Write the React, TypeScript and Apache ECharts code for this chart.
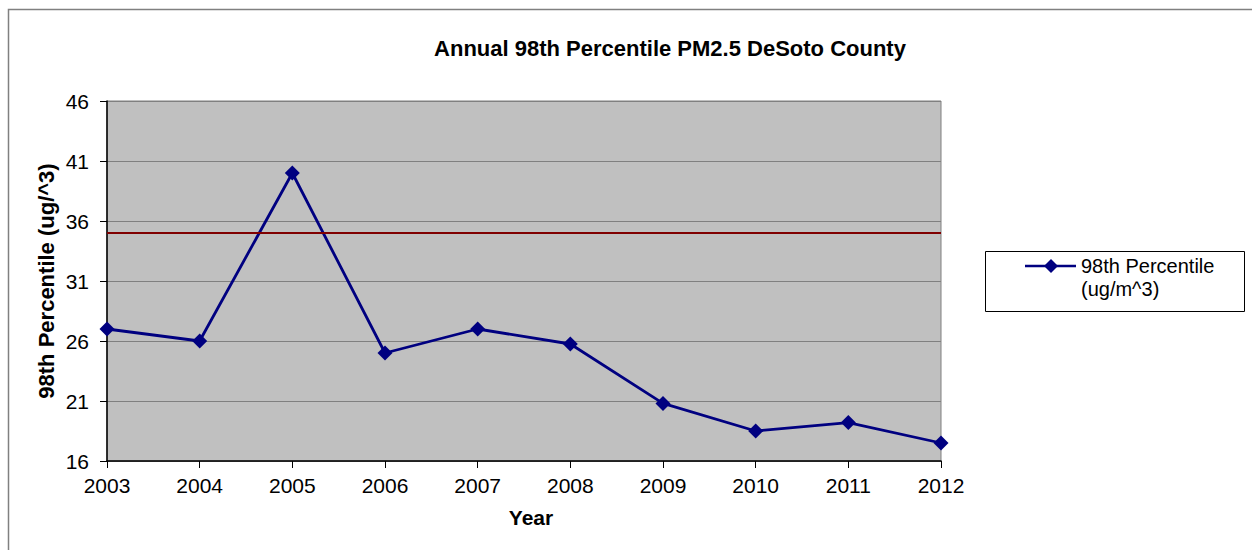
import React, { useEffect, useRef } from "react";
import * as echarts from "echarts";

const years = ["2003", "2004", "2005", "2006", "2007", "2008", "2009", "2010", "2011", "2012"];
const percentile98 = [27, 26, 40, 25, 27, 25.75, 20.8, 18.5, 19.2, 17.5];
const standardValue = 35;
const titleText = "Annual 98th Percentile PM2.5 DeSoto County";
const seriesName = "98th Percentile (ug/m^3)";
const yAxisName = "98th Percentile (ug/^3)";
const xAxisName = "Year";

const FONT = "Arial, 'Liberation Sans', sans-serif";

export default function App() {
  const ref = useRef<HTMLDivElement>(null);
  useEffect(() => {
    if (!ref.current) return;
    const chart = echarts.init(ref.current, undefined, { renderer: "svg" });
    chart.setOption({
      animation: false,
      textStyle: { fontFamily: FONT },
      title: {
        text: titleText,
        left: 665,
        top: 32,
        textAlign: "center",
        textStyle: { fontSize: 22, fontWeight: "bold", color: "#000", fontFamily: FONT },
      },
      grid: {
        left: 107,
        top: 101,
        width: 834,
        height: 360,
        show: true,
        backgroundColor: "#C0C0C0",
        borderColor: "#808080",
        borderWidth: 1,
      },
      xAxis: {
        type: "category",
        data: years,
        boundaryGap: false,
        name: xAxisName,
        nameLocation: "middle",
        nameGap: 46,
        nameMoveOverlap: false,
        nameTextStyle: {
          fontSize: 21,
          fontWeight: "bold",
          color: "#000",
          fontFamily: FONT,
          padding: [0, 0, 0, 14],
        },
        axisLine: { lineStyle: { color: "#000", width: 1.5 } },
        axisTick: { show: true, length: 7, lineStyle: { color: "#000" } },
        axisLabel: { fontSize: 21, color: "#000", margin: 14, fontFamily: FONT },
        splitLine: { show: false },
      },
      yAxis: {
        type: "value",
        min: 16,
        max: 46,
        interval: 5,
        name: yAxisName,
        nameLocation: "middle",
        nameGap: 50,
        nameMoveOverlap: false,
        nameTextStyle: { fontSize: 22, fontWeight: "bold", color: "#000", fontFamily: FONT },
        axisLine: { show: true, lineStyle: { color: "#000", width: 1.5 } },
        axisTick: { show: true, length: 7, lineStyle: { color: "#000" } },
        axisLabel: { fontSize: 21, color: "#000", margin: 18, fontFamily: FONT },
        splitLine: { show: true, lineStyle: { color: "#808080", width: 1 } },
      },
      series: [
        {
          name: seriesName,
          type: "line",
          data: percentile98,
          symbol: "diamond",
          symbolSize: 15,
          lineStyle: { color: "#000080", width: 2.8 },
          itemStyle: { color: "#000080" },
          markLine: {
            silent: true,
            symbol: "none",
            label: { show: false },
            lineStyle: { color: "#800000", width: 2, type: "solid" },
            data: [{ yAxis: standardValue }],
          },
        },
      ],
      graphic: [
        {
          type: "polyline",
          shape: { points: [[8.5, 560], [8.5, 9.5], [1260, 9.5]] },
          style: { stroke: "#808080", lineWidth: 1.5, fill: null },
          silent: true,
        },
        {
          type: "rect",
          shape: { x: 985.5, y: 251.5, width: 259, height: 60 },
          style: { stroke: "#000", lineWidth: 1, fill: "#fff" },
        },
        {
          type: "line",
          shape: { x1: 1025, y1: 266, x2: 1076, y2: 266 },
          style: { stroke: "#000080", lineWidth: 2.5 },
        },
        {
          type: "polygon",
          shape: { points: [[1051, 259], [1058, 266], [1051, 273], [1044, 266]] },
          style: { fill: "#000080" },
        },
        {
          type: "text",
          x: 1081,
          y: 254.5,
          style: {
            text: "98th Percentile\n(ug/m^3)",
            font: "20px " + FONT,
            fill: "#000",
            verticalAlign: "top",
            lineHeight: 23,
          },
        },
      ],
    });
    return () => chart.dispose();
  }, []);
  return (
    <div
      ref={ref}
      style={{ position: "absolute", left: 0, top: 0, width: 1252, height: 550, background: "#fff" }}
    />
  );
}
